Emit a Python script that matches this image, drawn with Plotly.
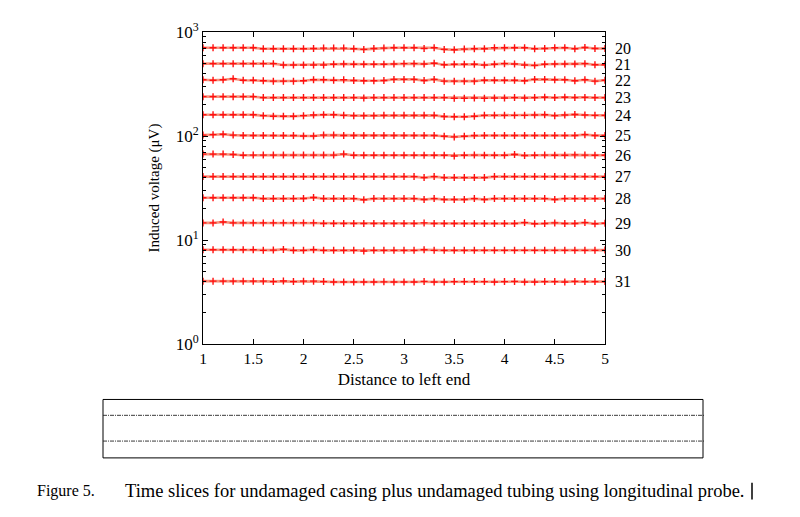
import numpy as np
import plotly.graph_objects as go

# distance along the pipe (41 samples)
distance = [1.0, 1.1, 1.2, 1.3, 1.4, 1.5, 1.6, 1.7, 1.8, 1.9, 2.0,
            2.1, 2.2, 2.3, 2.4, 2.5, 2.6, 2.7, 2.8, 2.9, 3.0,
            3.1, 3.2, 3.3, 3.4, 3.5, 3.6, 3.7, 3.8, 3.9, 4.0,
            4.1, 4.2, 4.3, 4.4, 4.5, 4.6, 4.7, 4.8, 4.9, 5.0]

# induced voltage (uV) for time slices 20..31
v20 = [705, 705, 705, 705, 705, 705, 690, 690, 690, 690, 690,
       695, 700, 700, 700, 690, 680, 695, 700, 705, 705,
       705, 695, 705, 680, 675, 685, 690, 690, 705, 705,
       705, 705, 690, 695, 705, 705, 690, 710, 695, 695]
v21 = [496, 496, 496, 496, 496, 496, 496, 496, 482, 482, 482,
       482, 482, 489, 492, 489, 489, 489, 489, 492, 496,
       496, 492, 500, 485, 489, 489, 489, 482, 489, 496,
       492, 482, 478, 489, 492, 492, 492, 496, 485, 485]
v22 = [347, 344, 347, 355, 344, 344, 340, 337, 337, 337, 340,
       347, 347, 344, 347, 342, 340, 340, 342, 350, 350,
       350, 342, 350, 337, 337, 337, 337, 344, 344, 344,
       344, 340, 350, 350, 347, 347, 340, 347, 337, 344]
v23 = [239, 239, 239, 239, 239, 239, 234, 234, 234, 234, 234,
       234, 234, 234, 234, 234, 232, 234, 234, 234, 234,
       234, 234, 234, 234, 231, 231, 232, 231, 232, 232,
       234, 232, 234, 236, 234, 236, 234, 235, 234, 234]
v24 = [160, 160, 160, 160, 160, 160, 157, 155, 155, 155, 157,
       159, 160, 160, 158, 157, 157, 157, 158, 158, 158,
       158, 158, 158, 154, 153, 153, 155, 158, 158, 158,
       158, 158, 159, 160, 157, 159, 161, 159, 158, 158]
v25 = [102, 103, 104, 102, 101, 101, 101, 101, 101, 101, 100,
       100, 102, 102, 101, 101, 101, 101, 101, 101, 101,
       101, 101, 101, 99.5, 98, 99.5, 101, 101, 101, 101,
       101, 101, 101, 101, 101, 101, 101, 103, 101, 101]
v26 = [67, 67, 67, 66.5, 65.2, 65.5, 65.5, 65.5, 65.5, 65.5, 65.5,
       65.5, 65.5, 65.5, 67, 65.2, 65.2, 65.2, 65.2, 65.2, 65.2,
       65.2, 65.2, 65.2, 65.2, 64.3, 65.2, 65.5, 65.2, 65.2, 65.2,
       66.5, 65, 65.2, 65.5, 65.2, 65.2, 65.8, 65.5, 65.2, 65.2]
v27 = [40.7, 40.7, 40.7, 40.7, 40.7, 40.7, 40.7, 40.7, 40.7, 40.7, 40.7,
       40.7, 40.7, 40.7, 40.7, 40.7, 40.7, 40.7, 40.7, 40.7, 40.7,
       40.7, 39.8, 40.7, 39.8, 39.8, 39.8, 39.8, 39.8, 40.7, 40.7,
       40.7, 40.7, 40.7, 40.7, 40.7, 40.7, 40.7, 40.7, 40.7, 40.7]
v28 = [25.5, 25.5, 25.5, 25.5, 25.5, 25.5, 25.0, 25.0, 25.0, 25.0, 25.1,
       25.6, 25.0, 25.0, 25.0, 25.0, 24.4, 25.0, 25.0, 25.0, 25.0,
       25.0, 24.5, 25.0, 24.5, 24.5, 24.5, 25.0, 24.5, 25.0, 25.0,
       25.0, 25.0, 25.0, 25.0, 24.5, 25.0, 25.0, 25.0, 25.0, 25.0]
v29 = [14.6, 14.6, 14.9, 14.6, 14.6, 14.6, 14.6, 14.6, 14.6, 14.6, 14.6,
       14.6, 14.4, 14.4, 14.4, 14.4, 14.4, 14.4, 14.4, 14.4, 14.4,
       14.4, 14.6, 14.4, 14.4, 14.4, 14.4, 14.4, 14.4, 14.4, 14.4,
       14.4, 14.7, 14.35, 14.4, 14.6, 14.4, 14.4, 14.7, 14.35, 14.5]
v30 = [8.05, 8.05, 8.05, 8.05, 8.05, 8.05, 7.95, 8.0, 8.12, 7.95, 7.95,
       8.05, 7.95, 7.95, 7.95, 7.95, 7.85, 7.95, 7.95, 7.95, 7.95,
       7.95, 8.05, 7.95, 7.95, 7.95, 7.95, 7.95, 7.95, 7.95, 7.95,
       7.95, 7.95, 7.95, 7.95, 7.95, 7.95, 7.95, 7.95, 7.95, 8.0]
v31 = [4.02, 4.02, 4.02, 4.02, 4.02, 4.02, 4.02, 3.98, 4.03, 3.98, 4.02,
       4.02, 3.98, 3.95, 3.95, 3.95, 3.95, 3.95, 3.96, 3.94, 3.94,
       3.95, 4.0, 3.95, 3.94, 3.98, 3.98, 3.98, 3.98, 3.95, 3.98,
       4.0, 3.95, 3.95, 3.98, 3.98, 3.95, 4.0, 3.98, 3.98, 3.98]

slices = [20, 21, 22, 23, 24, 25, 26, 27, 28, 29, 30, 31]
series = [v20, v21, v22, v23, v24, v25, v26, v27, v28, v29, v30, v31]

y_ticks = [1, 10, 100, 1000]
y_ticktext = ['10<sup>0</sup>', '10<sup>1</sup>', '10<sup>2</sup>', '10<sup>3</sup>']
x_ticks = [1, 1.5, 2, 2.5, 3, 3.5, 4, 4.5, 5]
x_ticktext = ['1', '1.5', '2', '2.5', '3', '3.5', '4', '4.5', '5']

serif = 'Liberation Serif, Times New Roman, serif'

# page offset of the figure (body margin) and plot area in screen pixels
OFF = 8
L, R, T, B = 203, 605, 29, 344


def px_x(px):
    return (px - L) / (R - L)


def px_y(py):
    return (B - py) / (B - T)


fig = go.Figure()
for s, v in zip(slices, series):
    fig.add_trace(
        go.Scatter(
            name=str(s),
            x=distance,
            y=v,
            mode='lines+markers',
            line=dict(color='rgba(245, 130, 105, 0.85)', width=2.6),
            marker=dict(symbol='cross-thin', size=5,
                        line=dict(color='#ff1010', width=1.4)),
            showlegend=False,
        )
    )
    fig.add_annotation(
        x=1, xref='paper', xanchor='left', xshift=8,
        y=np.log10(v[-1]), yref='y', yanchor='middle',
        text=str(s), showarrow=False,
        font=dict(family=serif, size=16, color='black'),
    )

minor_vals = [m * 10 ** d for d in range(3) for m in range(2, 10)]

fig.update_xaxes(
    range=[1, 5], tickvals=x_ticks, ticktext=x_ticktext,
    ticks='inside', ticklen=5, tickcolor='black',
    showline=True, linecolor='black', linewidth=1, mirror='ticks',
    showgrid=False, zeroline=False,
    tickfont=dict(family=serif, size=15.5, color='black'),
    title=dict(text='Distance to left end', standoff=7,
               font=dict(family=serif, size=17, color='black')),
)
fig.update_yaxes(
    type='log', range=[0, 3], tickvals=y_ticks, ticktext=y_ticktext,
    ticks='inside', ticklen=5, tickcolor='black',
    minor=dict(tickvals=minor_vals, ticks='inside', ticklen=3,
               tickcolor='black', showgrid=False),
    showline=True, linecolor='black', linewidth=1, mirror='ticks',
    showgrid=False, zeroline=False,
    tickfont=dict(family=serif, size=17, color='black'),
    title=dict(text='Induced voltage (\u03bcV)', standoff=12,
               font=dict(family=serif, size=15, color='black')),
)

# box with dash-dot lines under the chart
fig.add_shape(type='rect', xref='paper', yref='paper',
              x0=px_x(103), x1=px_x(703), y0=px_y(400), y1=px_y(459),
              line=dict(color='black', width=1))
for py in [416, 442]:
    fig.add_shape(type='line', xref='paper', yref='paper',
                  x0=px_x(103), x1=px_x(705), y0=px_y(py), y1=px_y(py),
                  line=dict(color='#222222', width=0.9, dash='4px,1px,1px,1px'))

# caption
fig.add_annotation(x=px_x(35), y=px_y(492), xref='paper', yref='paper',
                   xanchor='left', yanchor='middle', showarrow=False,
                   text='Figure 5.', font=dict(family=serif, size=16, color='black'))
fig.add_annotation(x=px_x(123), y=px_y(492), xref='paper', yref='paper',
                   xanchor='left', yanchor='middle', showarrow=False,
                   text='Time slices for undamaged casing plus undamaged tubing using longitudinal probe.',
                   font=dict(family=serif, size=18.5, color='black'))
fig.add_shape(type='line', xref='paper', yref='paper',
              x0=px_x(752), x1=px_x(752), y0=px_y(484), y1=px_y(501),
              line=dict(color='black', width=1.5))

fig.update_layout(
    width=800, height=517,
    margin=dict(l=L - OFF, r=800 - R + OFF, t=T - OFF, b=517 - B + OFF),
    paper_bgcolor='white', plot_bgcolor='white',
)

fig.write_html("out.html")
